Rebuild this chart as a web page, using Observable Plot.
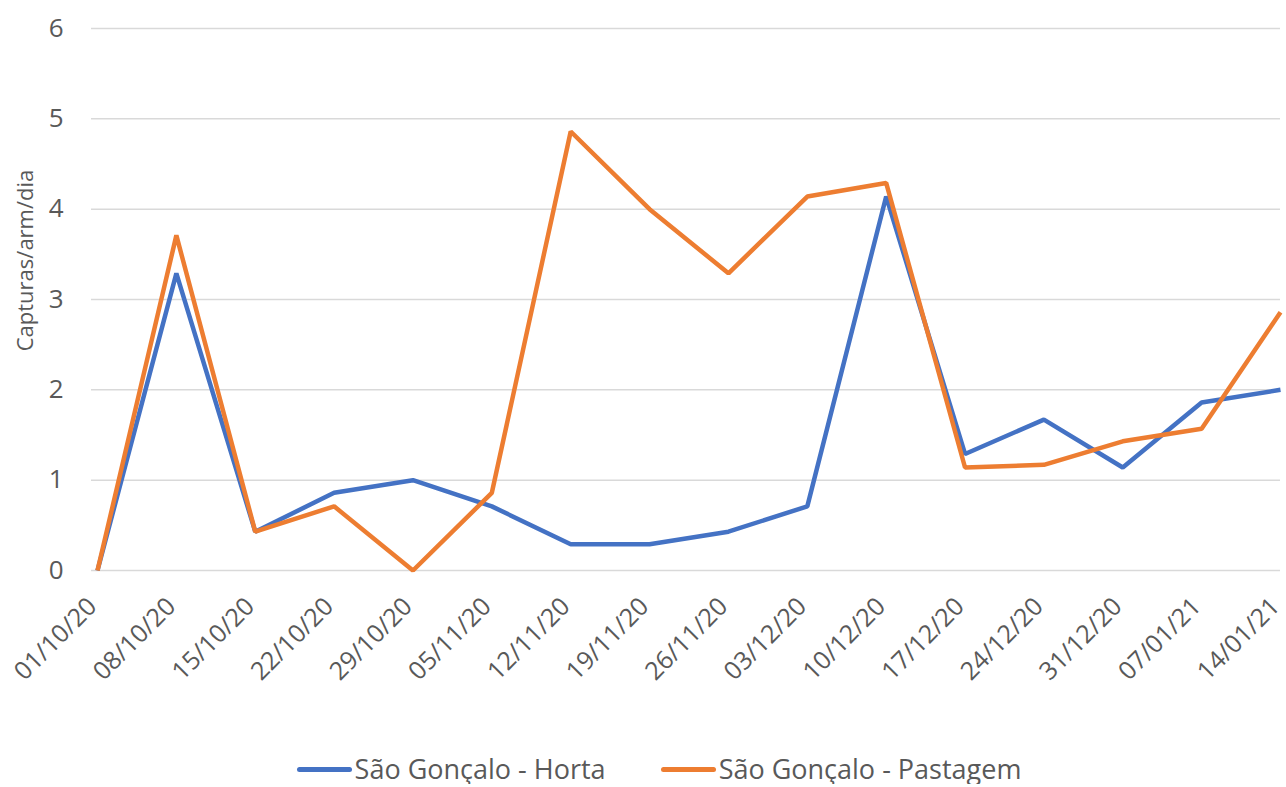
<!DOCTYPE html>
<html>
<head>
<meta charset="utf-8">
<script src="https://cdn.jsdelivr.net/npm/d3@7"></script>
<script src="https://cdn.jsdelivr.net/npm/@observablehq/plot@0.6"></script>
<style>
  body { margin: 0; background: #fff; font-family: "Open Sans", sans-serif; }
  #chart { width: 1286px; height: 754px; }
  .legend { display: flex; justify-content: center; gap: 55px; font-size: 27px; line-height: 30px; color: #595959; padding-left: 32px; }
  .legend span { display: flex; align-items: center; }
  .legend i { display: inline-block; width: 55px; height: 5px; margin-right: 3px; border-radius: 2.5px; }
</style>
</head>
<body>
<div id="chart"></div>
<script>
const dates = ["01/10/20","08/10/20","15/10/20","22/10/20","29/10/20","05/11/20","12/11/20","19/11/20","26/11/20","03/12/20","10/12/20","17/12/20","24/12/20","31/12/20","07/01/21","14/01/21"];
const horta = [0, 3.29, 0.43, 0.86, 1.0, 0.71, 0.29, 0.29, 0.43, 0.71, 4.14, 1.29, 1.67, 1.14, 1.86, 2.0];
const pastagem = [0, 3.71, 0.43, 0.71, 0, 0.86, 4.86, 4.0, 3.29, 4.14, 4.29, 1.14, 1.17, 1.43, 1.57, 2.86];
const seriesNames = ["São Gonçalo - Horta", "São Gonçalo - Pastagem"];
const seriesColors = ["#4472C4", "#ED7D31"];
const yTicks = [0, 1, 2, 3, 4, 5, 6];

const data = [];
dates.forEach((d, i) => {
  data.push({date: d, value: horta[i], series: seriesNames[0]});
  data.push({date: d, value: pastagem[i], series: seriesNames[1]});
});

const plot = Plot.plot({
  width: 1286,
  height: 754,
  marginLeft: 97,
  marginRight: 6,
  marginTop: 28,
  marginBottom: 184,
  style: {fontFamily: "'Open Sans', sans-serif", color: "#595959", background: "#fff"},
  x: {type: "point", domain: dates, padding: 0, round: false, label: null},
  y: {domain: [0, 6], ticks: yTicks, label: null},
  color: {domain: seriesNames, range: seriesColors},
  marks: [
    Plot.ruleY(yTicks, {stroke: "#d9d9d9", strokeWidth: 1.5, insetLeft: -6}),
    Plot.axisY({ticks: yTicks, tickFormat: "d", tickSize: 0, tickPadding: 34, fontSize: 26, fill: "#595959", label: null}),
    Plot.axisX({tickSize: 0, tickRotate: -45, fontSize: 25, fill: "#595959", textAnchor: "end", dx: -5, dy: 20, label: null}),
    Plot.text(["Capturas/arm/dia"], {frameAnchor: "left", textAnchor: "middle", dx: -72, dy: -39, rotate: -90, fontSize: 22, fill: "#595959"}),
    Plot.line(data, {x: "date", y: "value", z: "series", stroke: "series", strokeWidth: 4.5, strokeLinejoin: "miter", strokeLinecap: "butt"})
  ]
});
document.getElementById("chart").appendChild(plot);

const legend = document.createElement("div");
legend.className = "legend";
seriesNames.forEach((n, i) => {
  const s = document.createElement("span");
  const sw = document.createElement("i");
  sw.style.background = seriesColors[i];
  s.appendChild(sw);
  s.appendChild(document.createTextNode(n));
  legend.appendChild(s);
});
document.body.appendChild(legend);
</script>
</body>
</html>
